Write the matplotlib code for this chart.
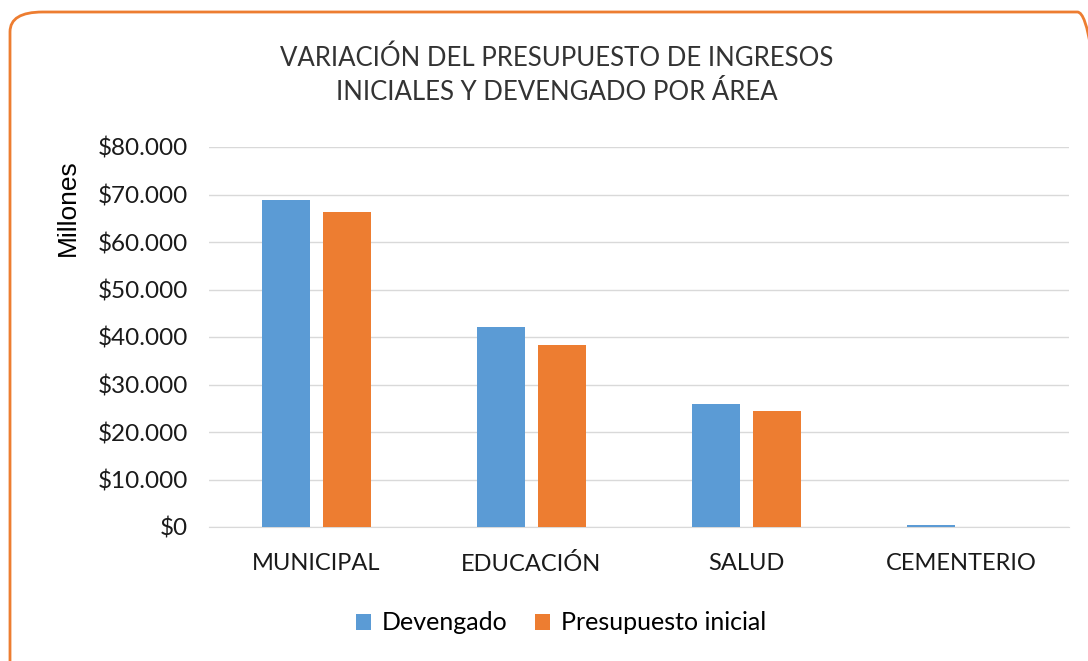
import matplotlib.pyplot as plt
import numpy as np
from matplotlib.patches import FancyBboxPatch
from matplotlib.ticker import FuncFormatter

plt.rcParams['font.family'] = ['Lato', 'DejaVu Sans']

# data (millions of pesos)
areas = ['MUNICIPAL', 'EDUCACIÓN', 'SALUD', 'CEMENTERIO']
devengado = [68800, 42100, 25900, 450]
presupuesto = [66300, 38300, 24400, 0]
yticks = [0, 10000, 20000, 30000, 40000, 50000, 60000, 70000, 80000]

fig = plt.figure(figsize=(10.88, 6.61), dpi=100)
fig.patch.set_facecolor('white')

# rounded orange frame (runs off the right/bottom edge like the screenshot)
frame = FancyBboxPatch((10 / 1088, -20 / 661), 1100 / 1088, (661 - 12 + 20) / 661,
                       boxstyle='round,pad=0,rounding_size=0.03', transform=fig.transFigure,
                       facecolor='none', edgecolor='#ED7D31', linewidth=2, clip_on=False)
fig.patches.append(frame)

ax = fig.add_axes([208.5 / 1088, 1 - 527 / 661, 860 / 1088, 380 / 661])
x = np.arange(len(areas))
w = 0.223
ax.bar(x - 0.14, devengado, w, color='#5B9BD5', label='Devengado', zorder=3)
ax.bar(x + 0.145, presupuesto, w, color='#ED7D31', label='Presupuesto inicial', zorder=3)

ax.set_xlim(-0.5, len(areas) - 0.5)
ax.set_ylim(0, 80000)
ax.set_yticks(yticks)
ax.yaxis.set_major_formatter(FuncFormatter(lambda v, p: '$' + format(int(v), ',').replace(',', '.')))
ax.set_xticks(x)
ax.set_xticklabels(areas)
ax.tick_params(axis='both', length=0, labelsize=17.5, colors='#1a1a1a')
ax.tick_params(axis='x', labelsize=17, pad=19)
ax.tick_params(axis='y', pad=15)
ax.grid(axis='y', color='#d9d9d9', linewidth=1, zorder=0)
for s in ['top', 'right', 'left']:
    ax.spines[s].set_visible(False)
ax.spines['bottom'].set_color('#d9d9d9')

fig.text(68 / 1088, 1 - 208 / 661, 'Millones', rotation=90, ha='center', va='center',
         fontsize=19, color='#000000', family=['Liberation Sans', 'DejaVu Sans'])
fig.text(557 / 1088, 1 - 75 / 661, 'VARIACIÓN DEL PRESUPUESTO DE INGRESOS\nINICIALES Y DEVENGADO POR ÁREA',
         ha='center', va='center', fontsize=18.5, color='#333333', linespacing=1.45)

fig.legend(loc='center', bbox_to_anchor=(561 / 1088, 1 - 623 / 661), ncol=2, frameon=False,
           fontsize=18, handlelength=0.6, handleheight=0.6, columnspacing=1.1, handletextpad=0.45)

fig.savefig('out.png', dpi=100)
